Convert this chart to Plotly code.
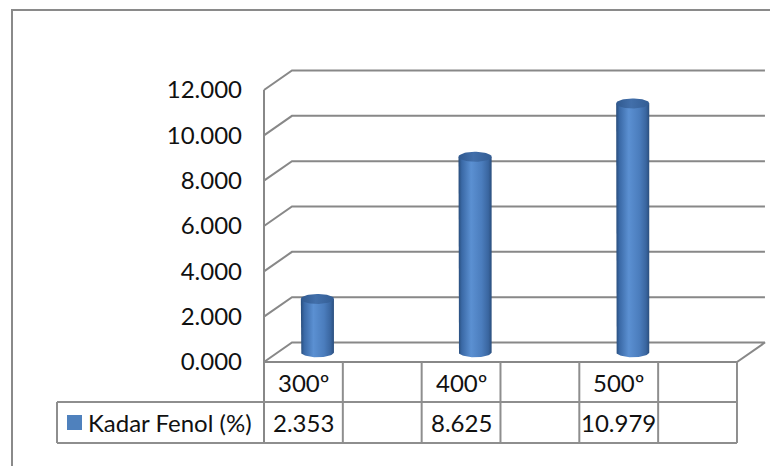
import numpy as np
import plotly.graph_objects as go

# ---- data -------------------------------------------------------------
categories = ["300º", "", "400º", "", "500º", ""]
values = [2.353, None, 8.625, None, 10.979, None]
series_name = "Kadar Fenol (%)"
y_ticks = [0, 2, 4, 6, 8, 10, 12]
tick_labels = [f"{t:.3f}" for t in y_ticks]

# ---- styling / pseudo-3D geometry (axis units) -------------------------
W, H = 770, 466
X_RANGE = [-3.349, 6.419]        # category units across the figure
Y_RANGE = [-4.588, 15.971]       # value units down the figure
DX, DY = 0.355, 0.86             # depth offset of the back wall
HEADER_Y = -1.765                # bottom of the category row
TABLE_Y = -3.574                 # bottom of the value row
LEGEND_X = -2.626                # left edge of the legend cell
CYL_HW = 0.21                    # cylinder half width
CYL_RY = 0.22                    # cylinder ellipse half height
GRID = "#888888"
TABLE = "#8e8e8e"
FONT = "Lato"
TXT = 24

n = len(categories)
fig = go.Figure()


def line(xs, ys, color, width=2):
    fig.add_trace(go.Scatter(x=xs, y=ys, mode="lines",
                             line=dict(color=color, width=width),
                             hoverinfo="skip", showlegend=False))


# floor
line([0, n, n + DX, DX, 0], [0, 0, DY, DY, 0], GRID)
# gridlines (front-left corner -> back wall)
for t in y_ticks[1:]:
    line([0, DX, n + DX], [t, t + DY, t + DY], GRID)
# front vertical axis, running down through the table
line([0, 0], [y_ticks[-1], TABLE_Y], GRID)

# data table
line([0, n], [HEADER_Y, HEADER_Y], TABLE)
line([LEGEND_X, n], [HEADER_Y, HEADER_Y], TABLE)
line([LEGEND_X, n], [TABLE_Y, TABLE_Y], TABLE)
line([LEGEND_X, LEGEND_X], [HEADER_Y, TABLE_Y], TABLE)
for i in range(1, n + 1):
    line([i, i], [0, TABLE_Y], TABLE)

# cylinders
body_scale = [[0, "#284c7a"], [0.1, "#3a69a6"], [0.38, "#5b90d2"],
              [0.7, "#4b7dbd"], [0.9, "#3a66a0"], [1, "#2a4e7d"]]
top_scale = [[0, "#30598f"], [0.45, "#426faa"], [1, "#335d94"]]
for i, v in enumerate(values):
    if v is None:
        continue
    cx = i + 0.5 + DX / 2
    base = DY / 2
    top = v + DY / 2
    th = np.linspace(np.pi, 2 * np.pi, 40)
    bx = list(cx + CYL_HW * np.cos(th))
    by = list(base + CYL_RY * np.sin(th))
    xs = [cx - CYL_HW] + bx + [cx + CYL_HW, cx - CYL_HW]
    ys = [top] + by + [top, top]
    fig.add_trace(go.Scatter(x=xs, y=ys, mode="lines", fill="toself",
                             line=dict(width=0),
                             fillgradient=dict(type="horizontal",
                                               colorscale=body_scale),
                             hoverinfo="skip", showlegend=False))
    ta = np.linspace(0, 2 * np.pi, 60)
    fig.add_trace(go.Scatter(x=cx + CYL_HW * np.cos(ta),
                             y=top + CYL_RY * np.sin(ta),
                             mode="lines", fill="toself", line=dict(width=0),
                             fillgradient=dict(type="horizontal",
                                               colorscale=top_scale),
                             hoverinfo="skip", showlegend=False))

# table text
row1 = HEADER_Y / 2
row2 = (HEADER_Y + TABLE_Y) / 2
for i, (c, v) in enumerate(zip(categories, values)):
    if c:
        fig.add_annotation(x=i + 0.5, y=row1, text=c, showarrow=False,
                           xanchor="center", yanchor="middle",
                           font=dict(family=FONT, size=TXT, color="#111111"))
    if v is not None:
        fig.add_annotation(x=i + 0.5, y=row2, text=f"{v:.3f}", showarrow=False,
                           xanchor="center", yanchor="middle",
                           font=dict(family=FONT, size=TXT, color="#111111"))

# legend key in the table
fig.add_trace(go.Scatter(x=[LEGEND_X + 0.222], y=[row2], mode="markers",
                         marker=dict(symbol="square", size=15, color="#4f81bd"),
                         hoverinfo="skip", showlegend=False))
fig.add_annotation(x=LEGEND_X + 0.37, y=row2, text=series_name, showarrow=False,
                   xanchor="left", yanchor="middle",
                   font=dict(family=FONT, size=TXT, color="#111111"))

# chart-area border
fig.add_shape(type="rect", xref="paper", yref="paper",
              x0=12 / W, x1=1.05, y0=-0.05, y1=1 - 10 / H,
              line=dict(color="#8a8a8a", width=2), layer="above")

fig.update_layout(
    width=W, height=H, margin=dict(l=0, r=0, t=0, b=0),
    paper_bgcolor="white", plot_bgcolor="white", showlegend=False,
    xaxis=dict(range=X_RANGE, visible=False, fixedrange=True),
    yaxis=dict(range=Y_RANGE, anchor="free", position=264 / W,
               tickvals=y_ticks, ticktext=tick_labels, ticks="",
               ticklabelstandoff=22, showgrid=False, zeroline=False,
               showline=False, fixedrange=True,
               tickfont=dict(family=FONT, size=TXT, color="#111111")),
)

fig.write_html("out.html")
